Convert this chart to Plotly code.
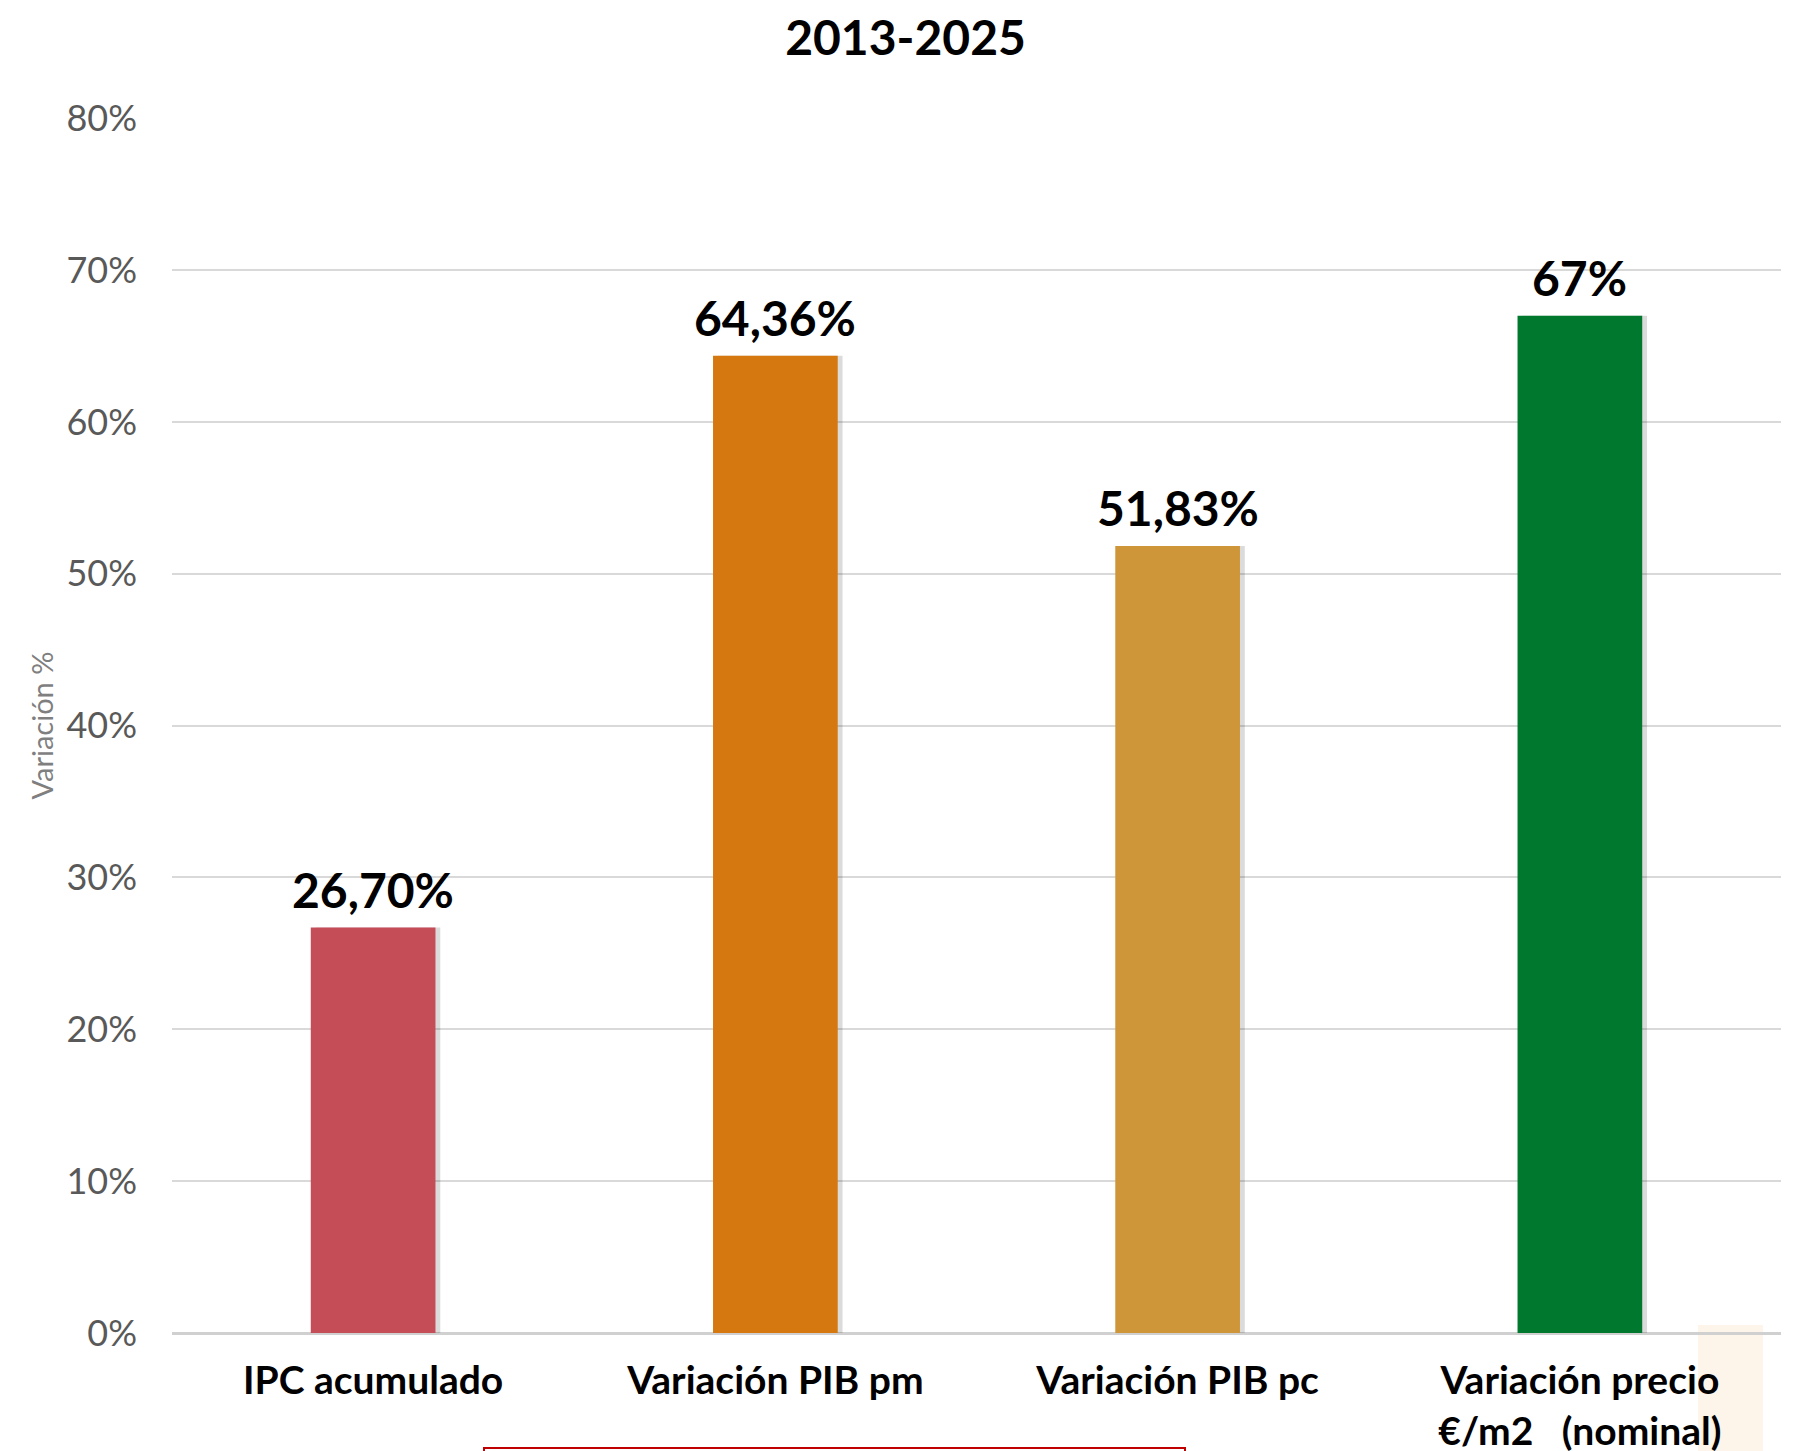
import plotly.graph_objects as go

categories = ["IPC acumulado", "Variación PIB pm", "Variación PIB pc",
              "Variación precio<br>€/m2\u00a0\u00a0 (nominal)"]
values = [26.70, 64.36, 51.83, 67.0]
labels = ["26,70%", "64,36%", "51,83%", "67%"]
colors = ["#C44D58", "#D4780F", "#CF9539", "#00782D"]
y_ticks = [0, 10, 20, 30, 40, 50, 60, 70, 80]
y_tick_text = [f"{v}%" for v in y_ticks]

W, H = 1795, 1451
L, R, T, B = 164, 22, 110, 126
PW, PH = W - L - R, H - T - B
FONT = "Lato, 'Open Sans', sans-serif"
BAR_W = 0.31

fig = go.Figure()
# soft drop shadow
fig.add_trace(go.Bar(
    x=categories, y=values, width=BAR_W, offset=-BAR_W / 2 + 0.012,
    marker=dict(color="rgba(0,0,0,0.14)", line=dict(width=0)),
    hoverinfo="skip",
))
fig.add_trace(go.Bar(
    x=categories, y=values, width=BAR_W, offset=-BAR_W / 2,
    marker=dict(color=colors, line=dict(width=0)),
))

for c, v, t in zip(categories, values, labels):
    fig.add_annotation(x=c, y=v, text=f"<b>{t}</b>", showarrow=False,
                       xanchor="center", yanchor="bottom", yshift=8,
                       font=dict(family=FONT, size=48, color="#000000"))

fig.update_layout(
    width=W, height=H, barmode="overlay",
    margin=dict(l=L, r=R, t=T, b=B, autoexpand=False),
    paper_bgcolor="white", plot_bgcolor="white",
    showlegend=False,
    title=dict(text="<b>2013-2025</b>", x=0.5, xref="container", xanchor="center",
               y=1 - 30 / H, yref="container", yanchor="middle",
               font=dict(family=FONT, size=48, color="#000000")),
    xaxis=dict(
        tickfont=dict(family=FONT, size=39, color="#000000", weight="bold"),
        showgrid=False, ticks="", showline=False, zeroline=False,
        ticklabelstandoff=21,
    ),
    yaxis=dict(
        range=[0, 80.02], tickvals=y_ticks, ticktext=y_tick_text,
        tickfont=dict(family=FONT, size=36, color="#595959"),
        showgrid=True, gridcolor="#D9D9D9", gridwidth=2,
        zeroline=True, zerolinecolor="#D0D0D0", zerolinewidth=3,
        showline=False, ticks="", ticklabelstandoff=34,
        title=dict(text="Variación %", standoff=4,
                   font=dict(family=FONT, size=29, color="#7F7F7F")),
    ),
    shapes=[
        dict(type="rect", xref="paper", yref="paper",
             x0=(1698 - 172) / PW, x1=(1763 - 172) / PW,
             y0=-130 / PH, y1=8 / PH,
             fillcolor="#FDF4EA", line=dict(width=0), layer="below"),
        dict(type="rect", xref="paper", yref="paper",
             x0=(484 - 172) / PW, x1=(1185 - 172) / PW,
             y0=-140 / PH, y1=-115 / PH,
             fillcolor="rgba(0,0,0,0)", line=dict(color="#C00000", width=2)),
    ],
)

fig.write_html("out.html")
